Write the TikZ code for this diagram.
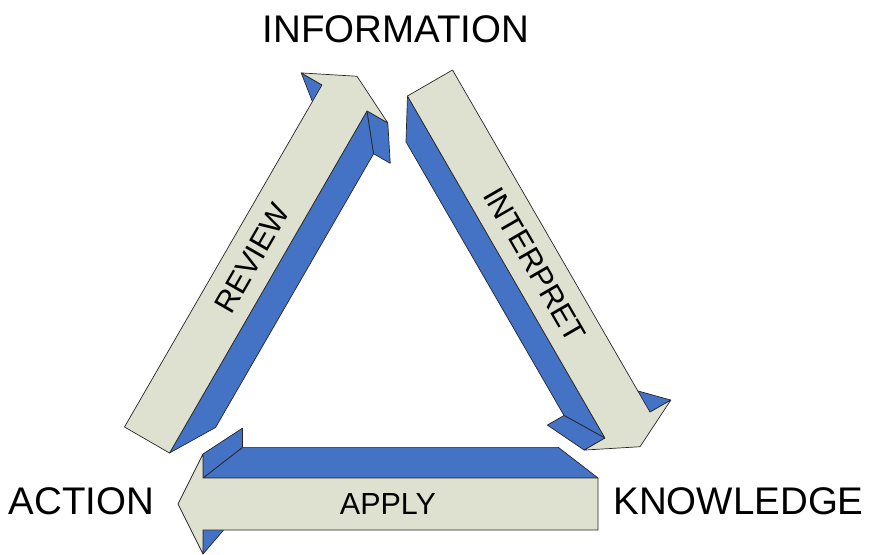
\documentclass[tikz,border=0pt]{standalone}
\usepackage{fontspec}
\setmainfont{Liberation Sans}
\usetikzlibrary{calc}

\definecolor{facegray}{RGB}{222,225,208}
\definecolor{sideblue}{RGB}{68,114,196}

\tikzset{
  front/.style={fill=facegray,draw=black!85,line width=0.7pt,line join=round},
  side/.style={fill=sideblue,draw=black!85,line width=0.7pt,line join=round},
  cornertext/.style={inner sep=0pt,font=\fontsize{38.5}{40}\selectfont},
  arrowtext/.style={inner sep=0pt,font=\fontsize{30.5}{32}\selectfont}
}

\begin{document}
\begin{tikzpicture}[x=1pt,y=1pt]
\useasboundingbox (0,0) rectangle (872,554);
% vanishing point of the extrusion
\coordinate (vp) at (400,229);
% three block arrows: name / tail / direction
\foreach \a/\tx/\ty/\r in {ap/598/50/180, rv/147/114/60, ip/430/471/-60}{
  \begin{scope}[shift={(\tx,\ty)},rotate=\r]
    \coordinate (\a-t1) at (0,26);
    \coordinate (\a-b1) at (395,26);
    \coordinate (\a-w1) at (395,50);
    \coordinate (\a-p) at (420,0);
    \coordinate (\a-w2) at (395,-50);
    \coordinate (\a-b2) at (395,-26);
    \coordinate (\a-t2) at (0,-26);
  \end{scope}
  \foreach \q in {t1,b1,w1,p,w2,b2,t2}
    \coordinate (\a-bk-\q) at ($(vp)!0.8!(\a-\q)$);
  \draw[side] (\a-t2) -- (\a-b2) -- (\a-bk-b2) -- (\a-bk-t2) -- cycle;
  \draw[side] (\a-w2) -- (\a-b2) -- (\a-bk-b2) -- (\a-bk-w2) -- cycle;
  \draw[side] (\a-w1) -- (\a-b1) -- (\a-bk-b1) -- (\a-bk-w1) -- cycle;
  \draw[front] (\a-t1) -- (\a-b1) -- (\a-w1) -- (\a-p) -- (\a-w2)
    -- (\a-b2) -- (\a-t2) -- cycle;
}
\node[arrowtext] (apply) at (388,50) {APPLY};
\node[arrowtext,rotate=60] (review) at (252,296) {REVIEW};
\node[arrowtext,rotate=-60] (interpret) at (535,289) {INTERPRET};
\node[cornertext] (information) at (396,525) {INFORMATION};
\node[cornertext] (action) at (81.5,53) {ACTION};
\node[cornertext] (knowledge) at (738.5,53) {KNOWLEDGE};
\end{tikzpicture}
\end{document}
